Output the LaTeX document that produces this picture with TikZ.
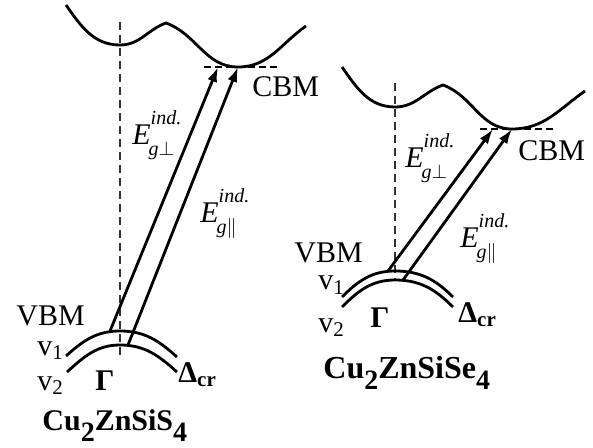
\documentclass[tikz,border=0pt]{standalone}
\usepackage{amsmath}
\usepackage{fontspec}
\setmainfont{Liberation Serif}
\usepackage{tikz}
\usetikzlibrary{arrows.meta, positioning}
\newcommand{\lowsub}[1]{\raisebox{-5.5pt}{\fontsize{14}{14}\selectfont #1}}
\newcommand{\Egap}[1]{\textit{E}\rlap{\raisebox{10pt}{\fontsize{10}{10}\selectfont\textit{ind.}}}%
    \hspace{-1pt}\raisebox{-5.5pt}{\fontsize{10}{10}\selectfont\textit{g}#1}}

\begin{document}
\begin{tikzpicture}[
    x=0.5pt, y=0.5pt,
    band/.style={line width=1.4pt},
    kaxis/.style={line width=0.8pt, black!80, dash pattern=on 4pt off 2.5pt},
    edge/.style={line width=1.4pt, dash pattern=on 3.5pt off 2pt},
    trans/.style={-{Latex[length=7.5pt,width=5pt]}, line width=1.4pt},
    lbl/.style={font=\fontsize{15}{18}\selectfont, inner sep=0pt, anchor=base west},
    bold/.style={lbl, font=\fontsize{15}{18}\selectfont\bfseries},
]
\useasboundingbox (0,0) rectangle (593,-448);

% Cu2ZnSiS4
\coordinate (cbmS) at (238,-67);
\coordinate (v1S) at (110,-331);
\coordinate (v2S) at (128,-345);
\coordinate (tipS) at (218,-67);
\draw[kaxis] (120,-22) -- (120,-355);
\draw[band] (66,-5) to[out=-55,in=180] (120,-45) to[out=0,in=200] (166,-23)
    to[out=-20,in=180] (cbmS) to[out=0,in=-145] (306,-26);
\draw[edge] (204,-67) -- (278,-67);
\draw[band] (66,-356) to[out=42,in=180] (120,-331) to[out=0,in=138] (177,-357);
\draw[band] (67,-372) to[out=42,in=180] (120,-345) to[out=0,in=138] (177,-372);
\draw[trans] (v1S) -- (tipS);
\draw[trans] (v2S) -- (cbmS);
\node[lbl] (vbmS) at (16,-325) {VBM};
\node[lbl] (cbmtS) at (252,-97) {CBM};
\node[lbl] (perpS) at (132,-145) {\Egap{$\perp$}};
\node[lbl] (parS) at (200,-223) {\Egap{$\|$}};
\node[lbl] (vaS) at (37,-355) {v\textsubscript{1}};
\node[lbl] (vbS) at (37,-390) {v\textsubscript{2}};
\node[bold] (gamS) at (95,-390) {Γ};
\node[bold] (delS) at (178,-382) {Δ\textsubscript{cr}};
\node[bold] (nameS) at (42,-430) {Cu\lowsub{2}ZnSiS\lowsub{4}};

% Cu2ZnSiSe4
\coordinate (cbmE) at (512,-129);
\coordinate (v1E) at (388,-271);
\coordinate (v2E) at (403,-280);
\coordinate (tipE) at (493,-129);
\draw[kaxis] (395,-83) -- (395,-280);
\draw[band] (342,-67) to[out=-55,in=180] (395,-107) to[out=0,in=200] (443,-85)
    to[out=-20,in=180] (cbmE) to[out=0,in=-145] (585,-91);
\draw[edge] (480,-129) -- (553,-129);
\draw[band] (342,-297) to[out=45,in=180] (395,-271) to[out=0,in=135] (453,-297);
\draw[band] (342,-307) to[out=45,in=180] (395,-280) to[out=0,in=135] (453,-307);
\draw[trans] (v1E) -- (tipE);
\draw[trans] (v2E) -- (cbmE);
\node[lbl] (vbmE) at (294,-263) {VBM};
\node[lbl] (cbmtE) at (518,-161) {CBM};
\node[lbl] (perpE) at (405,-168) {\Egap{$\perp$}};
\node[lbl] (parE) at (460,-248) {\Egap{$\|$}};
\node[lbl] (vaE) at (318,-290) {v\textsubscript{1}};
\node[lbl] (vbE) at (318,-332) {v\textsubscript{2}};
\node[bold] (gamE) at (370,-328) {Γ};
\node[bold] (delE) at (458,-322) {Δ\textsubscript{cr}};
\node[bold, font=\fontsize{16}{18}\selectfont\bfseries] (nameE) at (323,-378) {Cu\lowsub{2}ZnSiSe\lowsub{4}};
\end{tikzpicture}
\end{document}
